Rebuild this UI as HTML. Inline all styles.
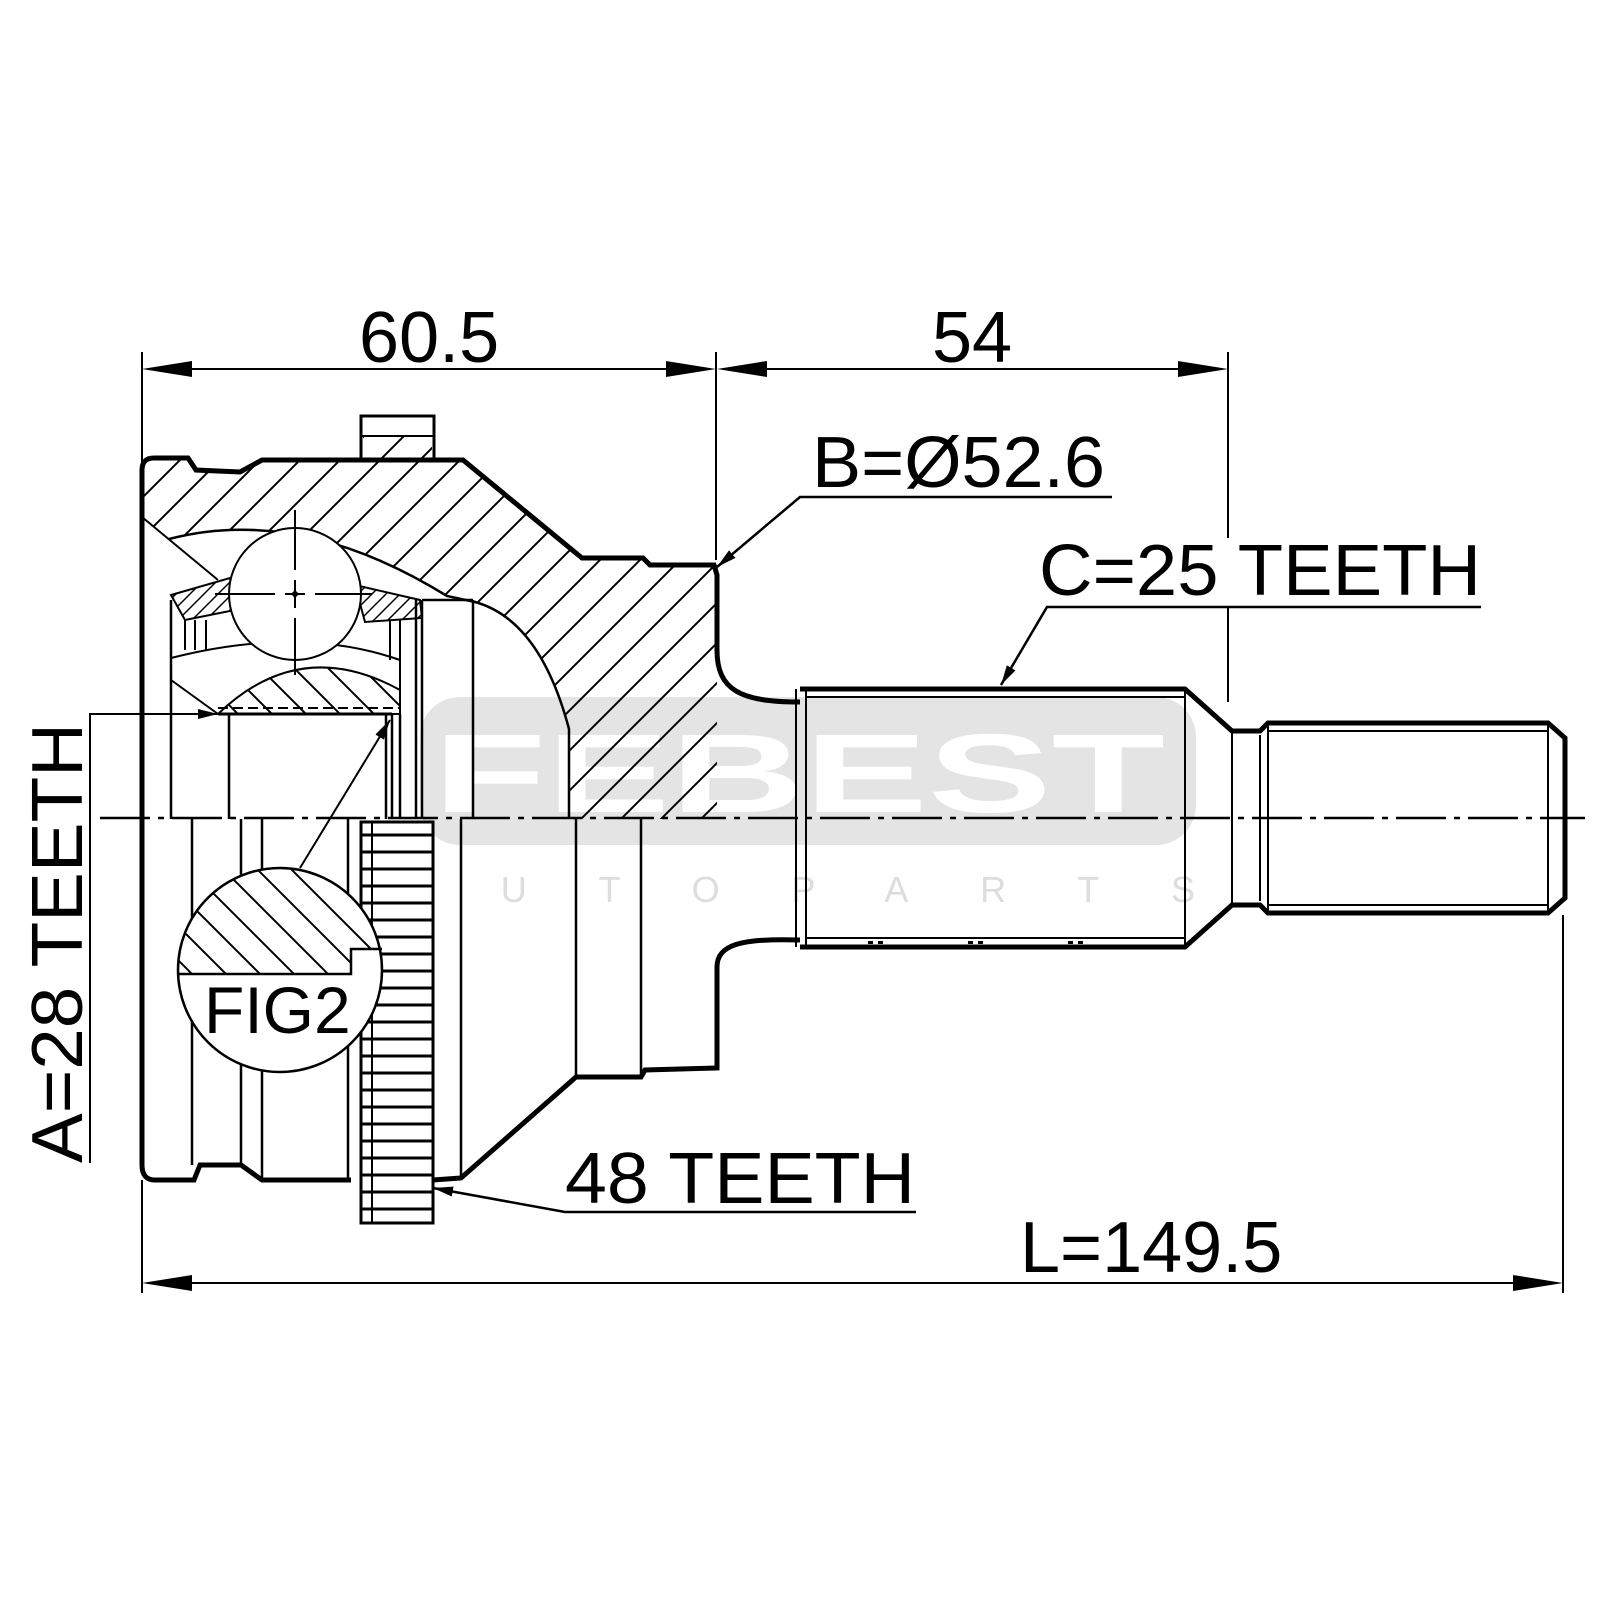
<!DOCTYPE html>
<html><head><meta charset="utf-8"><style>html,body{margin:0;padding:0;background:#fff}svg{display:block}</style></head>
<body>
<svg width="1600" height="1600" viewBox="0 0 1600 1600" xmlns="http://www.w3.org/2000/svg" font-family="Liberation Sans, sans-serif">
<defs>
<pattern id="h1" patternUnits="userSpaceOnUse" width="40" height="40"><path d="M-10,10 L10,-10 M0,40 L40,0 M30,50 L50,30" stroke="#000" stroke-width="2"/></pattern>
<pattern id="h2" patternUnits="userSpaceOnUse" width="34" height="34"><path d="M-10,-10 L44,44 M-10,24 L10,44 M24,-10 L44,10" stroke="#000" stroke-width="2"/></pattern>
<pattern id="h3" patternUnits="userSpaceOnUse" width="14" height="14"><path d="M-4,4 L4,-4 M0,14 L14,0 M10,18 L18,10" stroke="#000" stroke-width="1.5"/></pattern>
<marker id="ar" viewBox="0 0 20 10" refX="20" refY="5" markerWidth="20" markerHeight="10" markerUnits="userSpaceOnUse" orient="auto"><path d="M0,0 L20,5 L0,10 Z" fill="#000"/></marker>
</defs>

<!-- watermark -->
<rect x="420" y="697" width="776" height="148" rx="40" fill="#e4e4e4"/>
<text x="433" y="812" font-size="112" font-weight="bold" fill="#fff" textLength="732" lengthAdjust="spacingAndGlyphs">FEBEST</text>
<text x="405" y="902" font-size="36" fill="#ddd" textLength="790" lengthAdjust="spacing">AUTOPARTS</text>

<!-- hatched housing upper half -->
<path d="M142,517 L142,470 Q142,458 154,458 L188,458 L196,470 L240,472 L262,460 L463,460 L582,558 L643,558 L650,565 L714,565 L717,575 L717,819 L569,819 L569,729 Q540,620 475,602 L447,596 Q300,505 169,539 Z" fill="url(#h1)" stroke="none"/>
<path d="M142,517 L218,580" stroke="#000" stroke-width="2" fill="none"/>
<path d="M169,539 Q300,505 447,596 L475,602 Q540,620 569,729 L569,819" stroke="#000" stroke-width="2.5" fill="none"/>
<!-- tab -->
<rect x="361" y="416" width="73" height="44" fill="#fff" stroke="#000" stroke-width="3"/>
<rect x="363" y="436" width="69" height="22" fill="url(#h1)"/>
<line x1="361" y1="436" x2="434" y2="436" stroke="#000" stroke-width="2"/>

<!-- cage pieces -->
<path d="M171,595 L230,578 L235,610 L185,620 Z" fill="url(#h3)" stroke="#000" stroke-width="2"/>
<path d="M355,585 L420,600 L422,618 L365,622 Z" fill="url(#h3)" stroke="#000" stroke-width="2"/>
<path d="M185,620 L185,650 M195,620 L195,650 M206,620 L206,650 M390,620 L390,660 M400,620 L400,690" stroke="#000" stroke-width="2"/>
<path d="M171,658 Q300,625 400,660" stroke="#000" stroke-width="2" fill="none"/>
<path d="M171,680 L218,714" stroke="#000" stroke-width="2"/>

<!-- ball -->
<circle cx="295" cy="594" r="66" fill="#fff" stroke="#000" stroke-width="2"/>
<path d="M295,510 L295,570 M295,580 L295,608 M295,618 L295,675 M215,594 L275,594 M285,594 L305,594 M315,594 L372,594" stroke="#000" stroke-width="2"/>
<circle cx="295" cy="594" r="3" fill="#000"/>

<!-- inner race -->
<path d="M218,714 Q300,635 400,690 L400,714 Z" fill="url(#h2)" stroke="#000" stroke-width="2"/>
<line x1="218" y1="708" x2="400" y2="708" stroke="#000" stroke-width="2" stroke-dasharray="10,5"/>
<line x1="218" y1="714" x2="392" y2="714" stroke="#000" stroke-width="3"/>

<!-- upper verticals -->
<path d="M171,600 L171,819 M229,714 L229,819 M386,714 L386,819 M392,714 L392,819 M400,714 L400,819 M416,600 L416,819 M422,600 L422,819 M473,600 L473,819 M422,600 L473,600" stroke="#000" stroke-width="2.5" fill="none"/>

<!-- leader A -->
<path d="M90,1163 L90,714 L218,714" stroke="#000" stroke-width="2" fill="none" marker-end="url(#ar)"/>
<path d="M300,868 L390,720" stroke="#000" stroke-width="2" marker-end="url(#ar)"/>

<!-- outer outline -->
<path d="M142,819 L142,470 Q142,458 154,458 L188,458 L196,470 L240,472 L262,460 L463,460 L582,558 L643,558 L650,565 L714,565 L717,575 L717,650 C717,690 740,702 800,702" stroke="#000" stroke-width="5" fill="none"/>
<path d="M142,819 L142,1165 Q142,1180 155,1180 L194,1180 L200,1165 L241,1165 L262,1180 L351,1180 M433,1180 L461,1178 L576,1077 L641,1077 L645,1070 L717,1068 L717,967 C717,945 740,938 800,940" stroke="#000" stroke-width="5" fill="none"/>

<!-- lower verticals -->
<path d="M192,819 L192,1165 M241,819 L241,1165 M262,819 L262,1180 M348,819 L348,1180 M461,819 L461,1178 M576,819 L576,1077 M641,819 L641,1077" stroke="#000" stroke-width="2.5" fill="none"/>

<!-- ABS ring -->
<rect x="361" y="822" width="72" height="401" fill="#fff" stroke="#000" stroke-width="3"/>
<g stroke="#000" stroke-width="3">
<line x1="361" y1="835" x2="433" y2="835"/><line x1="361" y1="852" x2="433" y2="852"/><line x1="361" y1="869" x2="433" y2="869"/><line x1="361" y1="886" x2="433" y2="886"/><line x1="361" y1="903" x2="433" y2="903"/><line x1="361" y1="920" x2="433" y2="920"/><line x1="361" y1="937" x2="433" y2="937"/><line x1="361" y1="954" x2="433" y2="954"/><line x1="361" y1="971" x2="433" y2="971"/><line x1="361" y1="988" x2="433" y2="988"/><line x1="361" y1="1005" x2="433" y2="1005"/><line x1="361" y1="1022" x2="433" y2="1022"/><line x1="361" y1="1039" x2="433" y2="1039"/><line x1="361" y1="1056" x2="433" y2="1056"/><line x1="361" y1="1073" x2="433" y2="1073"/><line x1="361" y1="1090" x2="433" y2="1090"/><line x1="361" y1="1107" x2="433" y2="1107"/><line x1="361" y1="1124" x2="433" y2="1124"/><line x1="361" y1="1141" x2="433" y2="1141"/><line x1="361" y1="1158" x2="433" y2="1158"/><line x1="361" y1="1175" x2="433" y2="1175"/><line x1="361" y1="1192" x2="433" y2="1192"/><line x1="361" y1="1209" x2="433" y2="1209"/>
</g>
<line x1="372" y1="822" x2="372" y2="1223" stroke="#000" stroke-width="2"/>

<!-- FIG2 -->
<circle cx="280" cy="970" r="102" fill="#fff" stroke="#000" stroke-width="2.5"/>
<clipPath id="fc"><circle cx="280" cy="970" r="101"/></clipPath>
<path d="M170,974 L351,974 L351,949 L390,949 L390,860 L170,860 Z" fill="url(#h2)" clip-path="url(#fc)"/>
<path d="M178,974 L351,974 L351,949 L382,949" stroke="#000" stroke-width="2.5" fill="none"/>
<text x="204" y="1033" font-size="66">FIG2</text>

<!-- shaft -->
<path d="M800,689 L1185,689 L1232,731 L1260,731 L1268,723 L1548,723 L1565,738 L1565,898 L1548,913 L1268,913 L1260,905 L1232,905 L1185,947 L800,947" stroke="#000" stroke-width="5" fill="none"/>
<path d="M806,697 L1185,697 M806,938 L1185,938 M796,689 L796,947 M806,689 L806,947 M1185,689 L1185,947 M1232,731 L1232,905 M1260,735 L1260,901 M1268,723 L1268,913 M1268,731 L1548,731 M1268,905 L1548,905 M1548,723 L1548,913" stroke="#000" stroke-width="2" fill="none"/>
<g fill="#fff"><rect x="868" y="692" width="5" height="3"/><rect x="878" y="692" width="5" height="3"/><rect x="968" y="692" width="5" height="3"/><rect x="978" y="692" width="5" height="3"/><rect x="1068" y="692" width="5" height="3"/><rect x="1078" y="692" width="5" height="3"/></g>
<g fill="#000"><rect x="868" y="941" width="5" height="3"/><rect x="878" y="941" width="5" height="3"/><rect x="968" y="941" width="5" height="3"/><rect x="978" y="941" width="5" height="3"/><rect x="1068" y="941" width="5" height="3"/><rect x="1078" y="941" width="5" height="3"/></g>

<!-- centerline -->
<line x1="100" y1="818" x2="1585" y2="818" stroke="#000" stroke-width="2.5" stroke-dasharray="50,8,6,8"/>

<!-- dimensions -->
<g stroke="#000" stroke-width="2" fill="none">
<path d="M142,352 L142,470 M716,352 L716,560 M1228,352 L1228,538 M1228,608 L1228,702 M142,1180 L142,1293 M1563,915 L1563,1293"/>
<path d="M190,369 L668,369"/><path d="M765,369 L1180,369"/><path d="M190,1283 L1515,1283"/>
</g>
<g fill="#000">
<path d="M142,369 L192,361 L192,377 Z"/><path d="M716,369 L666,361 L666,377 Z"/>
<path d="M717,369 L767,361 L767,377 Z"/><path d="M1228,369 L1178,361 L1178,377 Z"/>
<path d="M142,1283 L192,1275 L192,1291 Z"/><path d="M1563,1283 L1513,1275 L1513,1291 Z"/>
</g>
<text x="359" y="362" font-size="72">60.5</text>
<text x="932" y="362" font-size="72">54</text>
<text x="1020" y="1272" font-size="72">L=149.5</text>

<text x="812" y="487" font-size="72" textLength="293" lengthAdjust="spacingAndGlyphs">B=Ø52.6</text>
<path d="M1112,497 L800,497 L717,567" stroke="#000" stroke-width="2.5" fill="none" marker-end="url(#ar)"/>
<text x="1039" y="595" font-size="72" textLength="442" lengthAdjust="spacingAndGlyphs">C=25 TEETH</text>
<path d="M1481,607 L1047,607 L1001,685" stroke="#000" stroke-width="2.5" fill="none" marker-end="url(#ar)"/>
<text x="565" y="1203" font-size="72" textLength="350" lengthAdjust="spacingAndGlyphs">48 TEETH</text>
<path d="M916,1212 L565,1212 L433,1188" stroke="#000" stroke-width="2.5" fill="none" marker-end="url(#ar)"/>
<text transform="translate(82,1163) rotate(-90)" font-size="72" textLength="440" lengthAdjust="spacingAndGlyphs">A=28 TEETH</text>
</svg>
</body></html>
